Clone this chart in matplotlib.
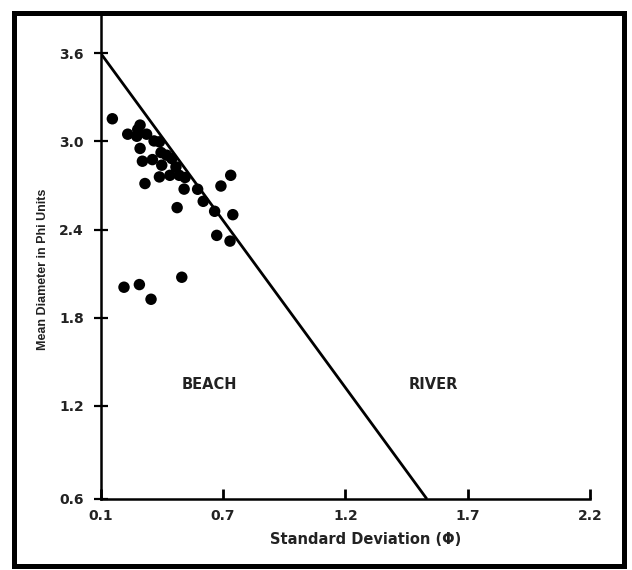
import matplotlib
matplotlib.use("Agg")
import matplotlib.pyplot as plt
from matplotlib.patches import Rectangle

# ---- data ----
std_dev = [0.150, 0.269, 0.259, 0.216, 0.255, 0.297, 0.329, 0.352, 0.269, 0.359,
           0.383, 0.405, 0.279, 0.322, 0.362, 0.423, 0.397, 0.352, 0.437, 0.462,
           0.290, 0.458, 0.516, 0.616, 0.658, 0.540, 0.589, 0.667, 0.428, 0.598,
           0.655, 0.448, 0.200, 0.266, 0.316]
mean_diam = [3.154, 3.111, 3.081, 3.049, 3.035, 3.049, 3.003, 2.997, 2.952, 2.924,
             2.906, 2.883, 2.865, 2.876, 2.838, 2.826, 2.769, 2.758, 2.769, 2.754,
             2.713, 2.675, 2.674, 2.696, 2.769, 2.592, 2.524, 2.501, 2.549, 2.360,
             2.321, 2.075, 2.007, 2.025, 1.925]

line_x = [0.1, 1.5]
line_y = [3.6, 0.565]

x_ticks = [0.1, 0.625, 1.15, 1.675, 2.2]
x_tick_labels = ["0.1", "0.7", "1.2", "1.7", "2.2"]
y_ticks = [0.565, 1.2, 1.8, 2.4, 3.0, 3.6]
y_tick_labels = ["0.6", "1.2", "1.8", "2.4", "3.0", "3.6"]

region_labels = ["BEACH", "RIVER"]
region_x = [0.565, 1.526]
region_y = [1.348, 1.348]

W, H = 632, 570
fig = plt.figure(figsize=(W / 100, H / 100), dpi=100)
fig.patch.set_facecolor("white")

def px(x0, y0, x1, y1):
    return [x0 / W, 1 - y1 / H, (x1 - x0) / W, (y1 - y0) / H]

ax = fig.add_axes(px(100.7, 12, 590, 499))
ax.set_xlim(0.1, 2.2)
ax.set_ylim(0.565, 3.881)

ax.plot(line_x, line_y, color="black", lw=2.0, solid_capstyle="butt", zorder=3)
ax.scatter(std_dev, mean_diam, s=68, color="black", edgecolors="none", zorder=4)

for t, xx, yy in zip(region_labels, region_x, region_y):
    ax.text(xx, yy, t, ha="center", va="center", fontsize=10.5,
            fontweight="bold", color="#222222")

for s in ["top", "right"]:
    ax.spines[s].set_visible(False)
for s in ["left", "bottom"]:
    ax.spines[s].set_linewidth(1.8)
    ax.spines[s].set_color("black")

ax.set_xticks(x_ticks)
ax.set_xticklabels(x_tick_labels)
ax.set_yticks(y_ticks)
ax.set_yticklabels(y_tick_labels)
ax.tick_params(axis="x", direction="in", length=7, width=2.0, pad=7,
               labelsize=10)
ax.tick_params(axis="y", direction="inout", length=10, width=1.6, pad=7,
               labelsize=10)
for lab in ax.get_xticklabels() + ax.get_yticklabels():
    lab.set_fontweight("bold")
    lab.set_color("#222222")

ax.set_xlabel("Standard Deviation (\u03a6)", fontsize=10.5, fontweight="bold",
              color="#222222")
ax.xaxis.set_label_coords((365.5 - 100.7) / 489.3, -(540 - 499) / 487)
ax.xaxis.label.set_va("center")

ax.set_ylabel("Mean Diameter in Phi Units", fontsize=9, fontweight="bold",
              family=["Liberation Sans Narrow", "Liberation Sans"],
              color="#222222")
ax.yaxis.set_label_coords(-(100.7 - 42.7) / 489.3, (499 - 269) / 487)
ax.yaxis.label.set_va("center")

fig.patches.append(Rectangle((14.2 / W, 1 - 565.5 / H), (624.2 - 14.2) / W,
                             (565.5 - 12.5) / H, transform=fig.transFigure,
                             fill=False, edgecolor="black", lw=3.6, zorder=10))

fig.savefig("out.png", dpi=100, facecolor="white")
